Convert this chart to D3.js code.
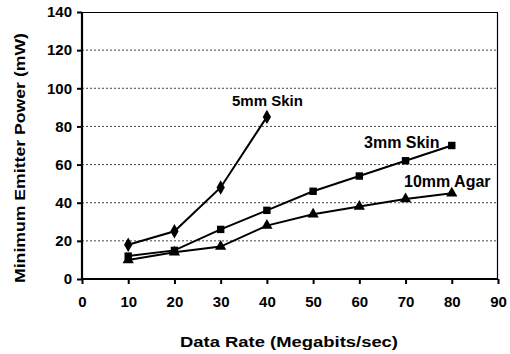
<!DOCTYPE html>
<html>
<head>
<meta charset="utf-8">
<script src="https://cdn.jsdelivr.net/npm/d3@7"></script>
<style>
  body { margin: 0; background: #fff; }
  text { font-family: "Liberation Sans", Arial, sans-serif; font-weight: bold; fill: #000; }
</style>
</head>
<body>
<div id="chart"></div>
<script>
// data
var rates = [10, 20, 30, 40, 50, 60, 70, 80];
var skin5mm = [18, 25, 48, 85];
var skin3mm = [12, 15, 26, 36, 46, 54, 62, 70];
var agar10mm = [10, 14, 17, 28, 34, 38, 42, 45];
var xTicks = [0, 10, 20, 30, 40, 50, 60, 70, 80, 90];
var yTicks = [0, 20, 40, 60, 80, 100, 120, 140];

var svgWidth = 510;
var svgHeight = 354;

var margin = {
    top: 12,
    right: 12,
    bottom: 75,
    left: 82
};

var width = svgWidth - margin.left - margin.right;
var height = svgHeight - margin.top - margin.bottom;

var svg = d3.select('#chart')
    .append('svg')
    .attr('width', svgWidth)
    .attr('height', svgHeight);

var chartGroup = svg.append('g')
    .attr('transform', `translate(${margin.left}, ${margin.top})`);

var xScale = d3.scaleLinear().domain([0, 90]).range([0, width]);
var yScale = d3.scaleLinear().domain([0, 140]).range([height, 0]);

// dotted gridlines
chartGroup.selectAll('line.grid')
    .data(yTicks.filter(d => d > 0 && d < 140))
    .enter()
    .append('line')
    .attr('class', 'grid')
    .attr('x1', 0)
    .attr('x2', width)
    .attr('y1', d => yScale(d))
    .attr('y2', d => yScale(d))
    .attr('stroke', '#444')
    .attr('stroke-width', 1)
    .attr('stroke-dasharray', '2,2');

// top and right border
chartGroup.append('path')
    .attr('d', `M0,0.5H${width - 0.5}V${height}`)
    .attr('fill', 'none')
    .attr('stroke', '#000')
    .attr('stroke-width', 1.2);

var bottomAxis = d3.axisBottom(xScale).tickValues(xTicks).tickSize(5).tickPadding(12);
var leftAxis = d3.axisLeft(yScale).tickValues(yTicks).tickSize(5).tickPadding(5);

var gx = chartGroup.append('g')
    .attr('transform', `translate(0, ${height})`)
    .call(bottomAxis);

var gy = chartGroup.append('g')
    .call(leftAxis);

[gx, gy].forEach(function(g) {
    g.select('.domain').attr('stroke', '#000').attr('stroke-width', 2.2);
    g.selectAll('.tick line').attr('stroke', '#000').attr('stroke-width', 2);
    g.selectAll('.tick text')
        .attr('font-family', '"Liberation Sans", Arial, sans-serif')
        .attr('font-weight', 'bold')
        .attr('font-size', 15)
        .attr('fill', '#000');
});
gx.select('.domain').attr('d', `M0,0H${width}`);
gy.select('.domain').attr('d', `M0,0V${height}`);

var line = d3.line()
    .x((d, i) => xScale(rates[i]))
    .y(d => yScale(d));

var series = [
    { name: '5mm Skin', values: skin5mm, shape: d3.symbolDiamond },
    { name: '3mm Skin', values: skin3mm, shape: d3.symbolSquare },
    { name: '10mm Agar', values: agar10mm, shape: d3.symbolTriangle }
];

series.forEach(function(s) {
    chartGroup.append('path')
        .attr('d', line(s.values))
        .attr('fill', 'none')
        .attr('stroke', '#000')
        .attr('stroke-width', 2);

    chartGroup.selectAll(null)
        .data(s.values)
        .enter()
        .append('path')
        .attr('d', d3.symbol().type(s.shape).size(s.shape === d3.symbolDiamond ? 60 : 55))
        .attr('transform', (d, i) => `translate(${xScale(rates[i])}, ${yScale(d)})`)
        .attr('fill', '#000');
});

// series labels
var labels = [
    { text: '5mm Skin', x: 232, y: 106, size: 15 },
    { text: '3mm Skin', x: 364, y: 148, size: 16 },
    { text: '10mm Agar', x: 404, y: 187, size: 16 }
];

svg.selectAll('text.seriesLabel')
    .data(labels)
    .enter()
    .append('text')
    .attr('class', 'seriesLabel')
    .attr('x', d => d.x)
    .attr('y', d => d.y)
    .attr('font-size', d => d.size)
    .text(d => d.text);

// axis titles
svg.append('text')
    .attr('transform', 'rotate(-90)')
    .attr('x', -158)
    .attr('y', 25)
    .attr('text-anchor', 'middle')
    .attr('font-family', '"DejaVu Sans", sans-serif')
    .attr('font-size', 14)
    .attr('textLength', 250)
    .attr('lengthAdjust', 'spacingAndGlyphs')
    .text('Minimum Emitter Power (mW)');

svg.append('text')
    .attr('x', 289)
    .attr('y', 347)
    .attr('text-anchor', 'middle')
    .attr('font-family', '"DejaVu Sans", sans-serif')
    .attr('font-size', 14)
    .attr('textLength', 218)
    .attr('lengthAdjust', 'spacingAndGlyphs')
    .text('Data Rate (Megabits/sec)');
</script>
</body>
</html>
